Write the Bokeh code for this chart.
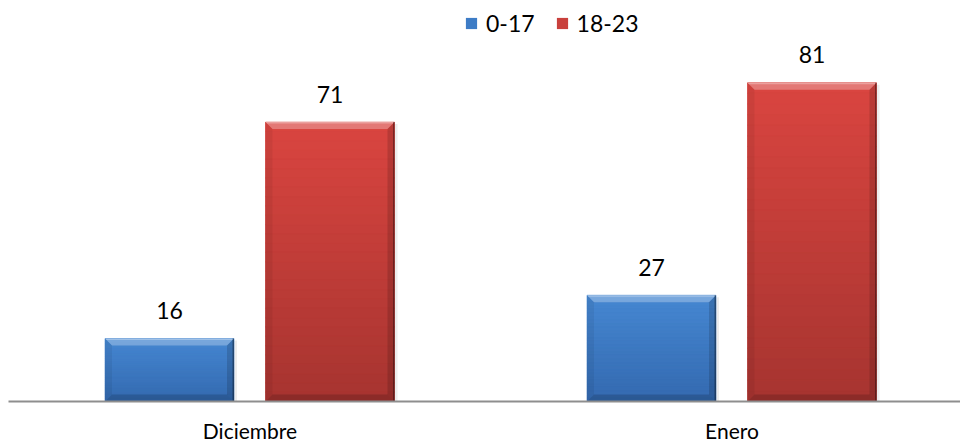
import numpy as np
from bokeh.plotting import figure
from bokeh.models import Range1d, Legend, LegendItem, ColumnDataSource, FixedTicker
from bokeh.embed import file_html
from bokeh.resources import INLINE
from bokeh.core.properties import value

# ---- data ----
categories = ["Diciembre", "Enero"]
series_names = ["0-17", "18-23"]
values_0_17 = [16, 27]
values_18_23 = [71, 81]

# ---- styles ----
series_values = [values_0_17, values_18_23]
top_colors = [(70, 135, 210), (218, 69, 64)]
bottom_colors = [(52, 106, 176), (166, 52, 48)]
base_colors = ["#3D7CC6", "#C9403C"]
FONT = "Lato"

W, H = 960, 447
LEFT = 8
BOTTOM = 46
FRAME_W = W - LEFT
FRAME_H = H - BOTTOM
cat_px = 482.0
x0 = -(249.5 - LEFT) / cat_px
x1 = x0 + FRAME_W / cat_px
ymax = FRAME_H / 3.935

p = figure(width=W, height=H, output_backend="svg", toolbar_location=None,
           x_range=Range1d(x0, x1), y_range=Range1d(0, ymax),
           min_border_left=LEFT, min_border_right=0, min_border_top=0,
           min_border_bottom=BOTTOM)
p.outline_line_color = None
p.grid.visible = False
p.yaxis.visible = False
p.background_fill_color = "white"
p.border_fill_color = "white"

xa = p.xaxis[0]
xa.ticker = FixedTicker(ticks=list(range(len(categories))))
xa.major_label_overrides = {i: c for i, c in enumerate(categories)}
xa.major_tick_line_color = None
xa.minor_tick_line_color = None
xa.major_tick_out = 0
xa.major_tick_in = 0
xa.axis_line_color = "#8E8E8E"
xa.axis_line_width = 2
xa.major_label_text_font = FONT
xa.major_label_text_font_size = "21px"
xa.major_label_text_color = "#000000"
xa.major_label_standoff = 16

dxp = (x1 - x0) / FRAME_W   # data units per px (x)
dyp = ymax / FRAME_H        # data units per px (y)
offsets = [-80.5 * dxp, 80.0 * dxp]
bar_w = 129 * dxp
bev_x = 7 * dxp
bev_y = 7 * dyp
NB = 30

legend_items = []
for s, vals in enumerate(series_values):
    xs = np.arange(len(vals)) + offsets[s]
    tops = np.array(vals, dtype=float)
    src = ColumnDataSource(dict(x=xs, top=tops, lab=[str(v) for v in vals]))
    r = p.vbar(x="x", top="top", width=bar_w, bottom=0, source=src,
               fill_color=base_colors[s], line_color=None)
    legend_items.append(LegendItem(label=series_names[s], renderers=[r]))
    # vertical gradient bands
    gl, gr, gb, gt, gc = [], [], [], [], []
    tc, bc = np.array(top_colors[s]), np.array(bottom_colors[s])
    for xi, t in zip(xs, tops):
        edges = np.linspace(t, 0, NB + 1)
        for k in range(NB):
            f = (k + 0.5) / NB
            c = tc * (1 - f) + bc * f
            gl.append(xi - bar_w / 2); gr.append(xi + bar_w / 2)
            gt.append(edges[k]); gb.append(edges[k + 1])
            gc.append("#%02x%02x%02x" % tuple(int(round(v)) for v in c))
    p.quad(left=gl, right=gr, top=gt, bottom=gb, fill_color=gc, line_color=gc, line_width=0.6)
    # bevel patches
    px_, py_, pc, pa = [], [], [], []
    for xi, t in zip(xs, tops):
        L, R, T, B = xi - bar_w / 2, xi + bar_w / 2, t, 0.0
        px_.append([L, R, R - bev_x, L + bev_x]); py_.append([T, T, T - bev_y, T - bev_y])
        pc.append("white"); pa.append(0.28)
        px_.append([L, L + bev_x, L + bev_x, L]); py_.append([T, T - bev_y, B + bev_y, B])
        pc.append("black"); pa.append(0.06)
        px_.append([R, R, R - bev_x, R - bev_x]); py_.append([T, B, B + bev_y, T - bev_y])
        pc.append("black"); pa.append(0.14)
        px_.append([L, R, R - bev_x, L + bev_x]); py_.append([B, B, B + bev_y, B + bev_y])
        pc.append("black"); pa.append(0.16)
        px_.append([L, R, R - 1.5 * dxp, L + 1.5 * dxp]); py_.append([T, T, T - 1.5 * dyp, T - 1.5 * dyp])
        pc.append("white"); pa.append(0.3)
        px_.append([R, R, R - 1.5 * dxp, R - 1.5 * dxp]); py_.append([T, B, B, T])
        pc.append("black"); pa.append(0.35)
    p.patches(xs=px_, ys=py_, fill_color=pc, fill_alpha=pa, line_color=None)
    # faint shadow on the right
    p.quad(left=xs + bar_w / 2, right=xs + bar_w / 2 + 3 * dxp, top=tops - 2 * dyp, bottom=0,
           fill_color="#000000", fill_alpha=0.07, line_color=None)
    # data labels
    p.text(x="x", y="top", text="lab", source=src, text_align="center",
           text_baseline="alphabetic", y_offset=-28, text_font=value(FONT),
           text_font_size="23px", text_color="#000000")

legend = Legend(items=legend_items, orientation="horizontal",
                location=(464 - LEFT, FRAME_H - 37), padding=0, margin=0, spacing=20,
                glyph_width=14, glyph_height=14, label_standoff=8,
                label_text_font=FONT, label_text_font_size="23px",
                label_text_color="#000000",
                border_line_color=None, background_fill_alpha=0)
p.add_layout(legend, "center")

open("out.html", "w").write(file_html(p, INLINE))
